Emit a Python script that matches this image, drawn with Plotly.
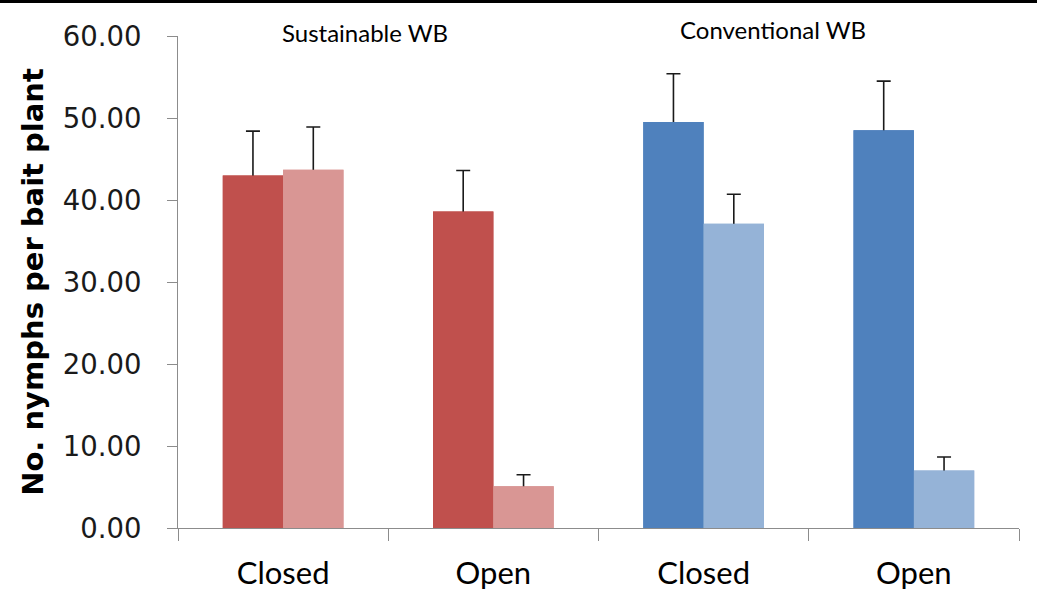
import plotly.graph_objects as go

# Group labels along the category axis
categories = ["Closed", "Open", "Closed", "Open"]
group_titles = ["Sustainable WB", "Conventional WB"]
group_title_x = [0.39, 2.33]

# Mean nymph counts (first bar / second bar of each category) and upper error
first_means = [43.0, 38.6, 49.5, 48.5]
first_errors = [5.4, 5.0, 5.9, 6.0]
second_means = [43.7, 5.1, 37.1, 7.0]
second_errors = [5.2, 1.4, 3.6, 1.65]

first_colors = ["#C0504D", "#C0504D", "#4F81BD", "#4F81BD"]
second_colors = ["#D99694", "#D99694", "#95B3D7", "#95B3D7"]

x_pos = list(range(len(categories)))
series = [("a", first_means, first_errors, first_colors),
          ("b", second_means, second_errors, second_colors)]

fig = go.Figure()
# Bars carrying the upper error whiskers; the whisker foot sits inside the bar
for grp, means, errs, cols in series:
    fig.add_trace(go.Bar(
        x=x_pos, y=means, offsetgroup=grp,
        marker=dict(color=cols, line=dict(width=0)),
        error_y=dict(type="data", symmetric=False, array=errs,
                     arrayminus=[1.0] * len(errs), color="#1a1a1a",
                     thickness=1.6, width=7),
        showlegend=False, hoverinfo="skip",
    ))
# Same bars drawn again on top so only the part above each bar shows
for grp, means, errs, cols in series:
    fig.add_trace(go.Bar(
        x=x_pos, y=means, offsetgroup=grp,
        marker=dict(color=cols, line=dict(width=0)),
        showlegend=False,
    ))

L, R, T, B = 178, 18, 36, 80
W, H = 1037, 608
pw, ph = W - L - R, H - T - B

fig.update_layout(
    width=W, height=H,
    margin=dict(l=L, r=R, t=T, b=B, autoexpand=False),
    paper_bgcolor="white", plot_bgcolor="white",
    barmode="group", bargap=0.426, bargroupgap=0,
    xaxis=dict(
        range=[-0.5, 3.5], tickvals=x_pos, ticktext=categories,
        ticks="", showgrid=False, zeroline=False,
        showline=True, linecolor="#8c8c8c", linewidth=1.2,
        tickfont=dict(family="Lato", size=31, color="black"),
        ticklabelstandoff=18,
        minor=dict(tickvals=[-0.5, 0.5, 1.5, 2.5, 3.5], ticks="outside",
                   ticklen=12, tickcolor="#8c8c8c", tickwidth=1.2,
                   showgrid=False),
    ),
    yaxis=dict(
        range=[0, 60], dtick=10, tickformat=".2f",
        ticks="outside", ticklen=10, tickcolor="#8c8c8c", tickwidth=1.2,
        showgrid=False, zeroline=False,
        showline=True, linecolor="#8c8c8c", linewidth=1.2,
        tickfont=dict(family="DejaVu Sans", size=27.5, color="#1a1a1a"),
        ticklabelstandoff=20,
        title=dict(text="<b>No. nymphs per bait plant</b>",
                   font=dict(family="DejaVu Sans", size=29, color="black"),
                   standoff=10),
    ),
)

# Group titles above each pair of categories
for title, xc, yp in zip(group_titles, group_title_x, [32, 30]):
    fig.add_annotation(
        x=xc, xref="x", y=1 + (T - yp) / ph, yref="paper",
        text=title, showarrow=False,
        font=dict(family="Lato", size=24, color="black"),
        xanchor="center", yanchor="middle",
    )

# Thick rule across the top edge
fig.add_shape(type="line", xref="paper", yref="paper",
              x0=-L / pw, x1=1 + R / pw,
              y0=1 + (T - 1.5) / ph, y1=1 + (T - 1.5) / ph,
              line=dict(color="black", width=3))

fig.write_html("out.html")
